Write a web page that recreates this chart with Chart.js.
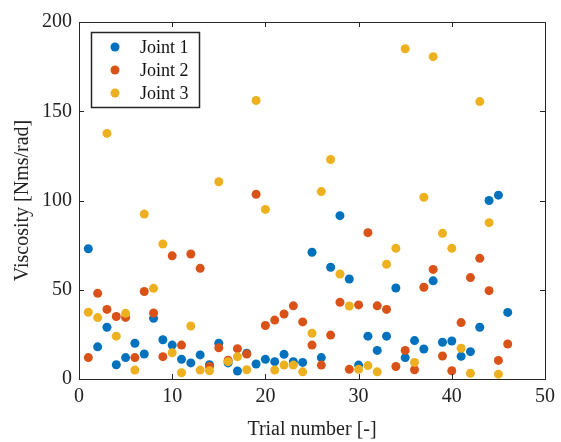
<!DOCTYPE html>
<html>
<head>
<meta charset="utf-8">
<script src="https://cdn.jsdelivr.net/npm/chart.js@4"></script>
<style>
  html, body { margin: 0; padding: 0; background: #fff; }
  #wrap { width: 561px; height: 442px; position: relative; }
</style>
</head>
<body>
<div id="wrap"><canvas id="ViscosityChart"></canvas></div>
<script>
const trials = [1, 2, 3, 4, 5, 6, 7, 8, 9, 10, 11, 12, 13, 14, 15, 16, 17, 18, 19, 20, 21, 22, 23,
    24, 25, 26, 27, 28, 29, 30, 31, 32, 33, 34, 35, 36, 37, 38, 39, 40, 41, 42, 43, 44, 45, 46];

const joint1 = [73, 18, 29, 8, 12, 20, 14, 34, 22, 19, 11, 9, 13.5, 8, 20, 9, 4.5, 14.4, 8.4, 11,
    9.7, 13.8, 9.7, 9.3, 71, 12, 62.6, 91.5, 56, 7.8, 24, 16, 24, 51, 12, 21.5, 16.8, 55, 20.6,
    21.3, 12.7, 15.3, 29, 100, 103, 37.3];
const joint2 = [12, 48, 39, 35, 34.5, 12, 49, 37, 12.5, 69, 19, 70, 62, 7, 17.5, 10.5, 17, 14,
    103.5, 30, 33, 36.4, 41, 32, 19, 7.8, 24.6, 43, 5.4, 41.5, 82, 41, 39, 7, 16, 5.2, 51.4, 61.4,
    12.9, 4.6, 31.6, 56.8, 67.6, 49.5, 10.4, 19.6];
const joint3 = [37.4, 34.4, 137.6, 24, 36.8, 5, 92.4, 50.8, 75.6, 14.7, 3.5, 29.7, 5, 4.6, 110.5,
    9.7, 12.5, 5.2, 156, 95, 5, 7.8, 7.8, 4, 25.6, 105, 123, 58.8, 40.9, 5.4, 7.5, 4, 64.3, 73.2,
    185, 9.3, 101.8, 180.6, 81.6, 73.2, 17.2, 3.2, 155.4, 87.6, 2.7];

const xTicks = [0, 10, 20, 30, 40, 50];
const yTicks = [0, 50, 100, 150, 200];

const axisColor = "#262626";
const serif = "'Liberation Serif', 'DejaVu Serif', serif";

function toPoints(values) {
    return values.map((v, i) => ({ x: trials[i], y: v }));
}

// box round the plot with inward ticks, like the original figure
const boxPlugin = {
    id: "box",
    afterDatasetsDraw(chart) {
        const { ctx, chartArea: a, scales } = chart;
        const len = 5;
        ctx.save();
        ctx.strokeStyle = axisColor;
        ctx.lineWidth = 1;
        ctx.strokeRect(a.left + 0.5, a.top + 0.5, a.right - a.left, a.bottom - a.top);
        ctx.beginPath();
        xTicks.forEach((t) => {
            const px = Math.round(scales.x.getPixelForValue(t)) + 0.5;
            ctx.moveTo(px, a.bottom);
            ctx.lineTo(px, a.bottom - len);
            ctx.moveTo(px, a.top);
            ctx.lineTo(px, a.top + len);
        });
        yTicks.forEach((t) => {
            const py = Math.round(scales.y.getPixelForValue(t)) + 0.5;
            ctx.moveTo(a.left, py);
            ctx.lineTo(a.left + len, py);
            ctx.moveTo(a.right, py);
            ctx.lineTo(a.right - len, py);
        });
        ctx.stroke();
        ctx.restore();
    },
};

// legend drawn inside the plot area, top left
const insideLegend = {
    id: "insideLegend",
    afterDraw(chart) {
        const { ctx, chartArea: a } = chart;
        const x0 = a.left + 12, y0 = a.top + 10, w = 108, h = 75;
        ctx.save();
        ctx.fillStyle = "#fff";
        ctx.fillRect(x0, y0, w, h);
        ctx.strokeStyle = axisColor;
        ctx.lineWidth = 1.5;
        ctx.strokeRect(x0 + 0.5, y0 + 0.5, w, h);
        ctx.font = "18px " + serif;
        ctx.textBaseline = "middle";
        chart.data.datasets.forEach((ds, i) => {
            const cy = y0 + 15 + i * 23;
            ctx.fillStyle = ds.backgroundColor;
            ctx.beginPath();
            ctx.arc(x0 + 24, cy, 4.5, 0, Math.PI * 2);
            ctx.fill();
            ctx.fillStyle = "#111";
            ctx.fillText(ds.label, x0 + 49, cy + 1);
        });
        ctx.restore();
    },
};

function ViscosityChart() {
    const ctx = document.getElementById("ViscosityChart");

    new Chart(ctx, {
        type: "scatter",
        data: {
            datasets: [
                {
                    label: "Joint 1",
                    data: toPoints(joint1),
                    backgroundColor: "rgb(0, 114, 189)",
                    borderWidth: 0,
                    pointRadius: 4.5,
                    order: 3,
                },
                {
                    label: "Joint 2",
                    data: toPoints(joint2),
                    backgroundColor: "rgb(217, 83, 25)",
                    borderWidth: 0,
                    pointRadius: 4.5,
                    order: 2,
                },
                {
                    label: "Joint 3",
                    data: toPoints(joint3),
                    backgroundColor: "rgb(237, 177, 32)",
                    borderWidth: 0,
                    pointRadius: 4.5,
                    order: 1,
                },
            ],
        },
        options: {
            responsive: true,
            maintainAspectRatio: false,
            animation: false,
            layout: {
                padding: { left: 0, right: 15, top: 22, bottom: 0 },
            },
            plugins: {
                legend: { display: false },
                tooltip: { enabled: false },
            },
            scales: {
                x: {
                    type: "linear",
                    min: 0,
                    max: 50,
                    afterFit(scale) { scale.height = 63; },
                    afterBuildTicks(scale) { scale.ticks = xTicks.map((v) => ({ value: v })); },
                    grid: { display: false, drawTicks: false },
                    border: { display: false },
                    ticks: {
                        padding: 6,
                        color: "#222",
                        font: { family: serif, size: 20 },
                    },
                    title: {
                        display: true,
                        text: "Trial number [-]",
                        color: "#222",
                        font: { family: serif, size: 20 },
                        padding: { top: 0, bottom: 0 },
                    },
                },
                y: {
                    type: "linear",
                    min: 0,
                    max: 200,
                    afterFit(scale) { scale.width = 79; },
                    afterBuildTicks(scale) { scale.ticks = yTicks.map((v) => ({ value: v })); },
                    grid: { display: false, drawTicks: false },
                    border: { display: false },
                    ticks: {
                        padding: 7,
                        color: "#222",
                        font: { family: serif, size: 20 },
                    },
                    title: {
                        display: true,
                        text: "Viscosity [Nms/rad]",
                        color: "#222",
                        font: { family: serif, size: 20 },
                        padding: { top: 11, bottom: 0 },
                    },
                },
            },
        },
        plugins: [boxPlugin, insideLegend],
    });
}

ViscosityChart();
</script>
</body>
</html>
